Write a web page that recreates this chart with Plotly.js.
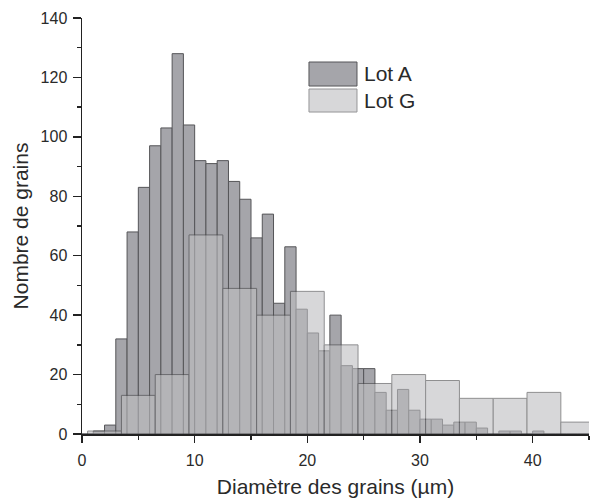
<!DOCTYPE html>
<html>
<head>
<meta charset="utf-8">
<script src="https://cdn.plot.ly/plotly-3.0.1.min.js"></script>
<style>html,body{margin:0;padding:0;background:#fff;}#chart{width:590px;height:501px;}</style>
</head>
<body>
<div id="chart"></div>
<script>
// Lot A: 1 µm bins (bin centres)
const lotA_x = [0.5,1.5,2.5,3.5,4.5,5.5,6.5,7.5,8.5,9.5,10.5,11.5,12.5,13.5,14.5,15.5,16.5,17.5,18.5,19.5,20.5,21.5,22.5,23.5,24.5,25.5,26.5,27.5,28.5,29.5,30.5,31.5,32.5,33.5,34.5,35.5,36.5,37.5,38.5,39.5,40.5,41.5,42.5,43.5,44.5];
const lotA_n = [0,1,3,32,68,83,97,103,128,104,92,91,92,85,79,66,74,44,63,42,34,28,40,23,22,22,14,8,15,8,5,5,3,4,4,2,0,1,1,0,1,0,0,0,0];
// Lot G: 3 µm bins (bin centres)
const lotG_x = [2,5,8,11,14,17,20,23,26,29,32,35,38,41,44];
const lotG_n = [1,13,20,67,49,40,48,30,17,20,18,12,12,14,4];
const seriesNames = ["Lot A","Lot G"];
const xTitle = "Diamètre des grains (µm)";
const yTitle = "Nombre de grains";

const font = "Liberation Sans, Arial, Helvetica, sans-serif";
const txt = "#2a2a2a";
const traces = [
  {type:"bar", x:lotA_x, y:lotA_n, width:1, name:seriesNames[0],
   marker:{color:"rgb(165,165,170)", line:{color:"rgb(85,85,88)", width:1}}},
  {type:"bar", x:lotG_x, y:lotG_n, width:3, name:seriesNames[1], opacity:0.6,
   marker:{color:"rgb(190,190,193)", line:{color:"rgb(70,70,72)", width:1}}}
];
const layout = {
  width:590, height:501,
  margin:{l:82, r:1, t:18, b:67},
  paper_bgcolor:"#fff", plot_bgcolor:"#fff",
  barmode:"overlay", bargap:0, showlegend:false,
  font:{family:font, color:txt},
  xaxis:{range:[0,45], tick0:0, dtick:10, ticks:"outside", ticklen:7, tickwidth:1.3, tickcolor:"#222",
         minor:{dtick:5, ticks:"outside", ticklen:4, tickwidth:1.3, tickcolor:"#222"},
         showline:true, linecolor:"#222", linewidth:1.5, showgrid:false, zeroline:false,
         ticklabelstandoff:4,
         tickfont:{size:16, family:font, color:txt},
         title:{text:xTitle, font:{size:21, family:font, color:txt}, standoff:11}},
  yaxis:{range:[0,140], tick0:0, dtick:20, ticks:"outside", ticklen:8, tickwidth:1.3, tickcolor:"#222",
         minor:{dtick:10, ticks:"outside", ticklen:4, tickwidth:1.3, tickcolor:"#222"},
         showline:true, linecolor:"#222", linewidth:1.5, showgrid:false, zeroline:false,
         ticklabelstandoff:2,
         tickfont:{size:16, family:font, color:txt},
         title:{text:yTitle, font:{size:21, family:font, color:txt}, standoff:6}},
  shapes:[
    {type:"rect", xref:"paper", yref:"paper", x0:0.4477, x1:0.5424, y0:0.8365, y1:0.8942,
     fillcolor:"rgb(165,165,170)", line:{color:"rgb(85,85,88)", width:1}},
    {type:"rect", xref:"paper", yref:"paper", x0:0.4477, x1:0.5424, y0:0.774, y1:0.8293,
     fillcolor:"rgb(215,215,217)", line:{color:"rgb(150,150,152)", width:1}}
  ],
  annotations:[
    {xref:"paper", yref:"paper", x:0.552, y:0.8654, xanchor:"left", yanchor:"middle", showarrow:false,
     text:seriesNames[0], font:{size:21, family:font, color:txt}},
    {xref:"paper", yref:"paper", x:0.552, y:0.8005, xanchor:"left", yanchor:"middle", showarrow:false,
     text:seriesNames[1], font:{size:21, family:font, color:txt}}
  ]
};
Plotly.newPlot("chart", traces, layout, {displayModeBar:false, staticPlot:true});
</script>
</body>
</html>
